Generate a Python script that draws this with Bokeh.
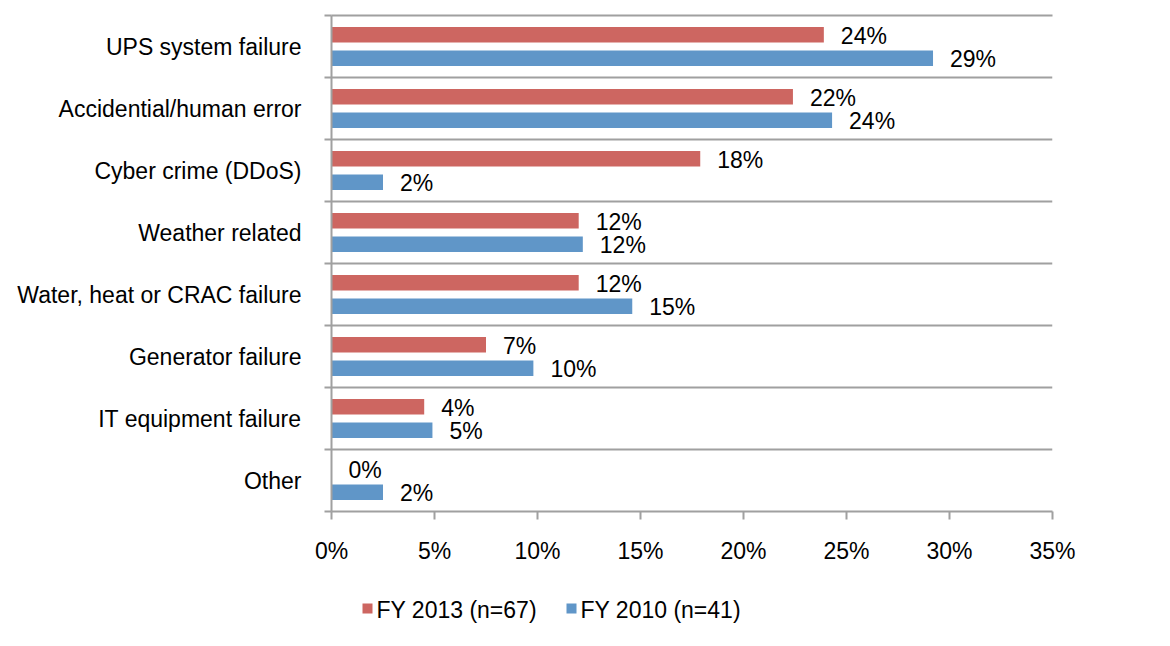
from bokeh.plotting import figure
from bokeh.models import ColumnDataSource, FixedTicker, PrintfTickFormatter, Range1d, LinearAxis
from bokeh.layouts import column
from bokeh.embed import file_html
from bokeh.resources import INLINE
from bokeh.core.properties import value

categories = ["UPS system failure", "Accidential/human error", "Cyber crime (DDoS)",
              "Weather related", "Water, heat or CRAC failure", "Generator failure",
              "IT equipment failure", "Other"]
fy2013 = [23.9, 22.4, 17.9, 12.0, 12.0, 7.5, 4.5, 0.0]
fy2010 = [29.2, 24.3, 2.5, 12.2, 14.6, 9.8, 4.9, 2.5]
labels2013 = ["24%", "22%", "18%", "12%", "12%", "7%", "4%", "0%"]
labels2010 = ["29%", "24%", "2%", "12%", "15%", "10%", "5%", "2%"]
series_names = ["FY 2013 (n=67)", "FY 2010 (n=41)"]
x_ticks = [0, 5, 10, 15, 20, 25, 30, 35]

RED = "#CD6661"
BLUE = "#6096C8"
GREY = "#A0A0A0"
FONT = "Liberation Sans"
FS = "23px"

W_LEFT, W_FRAME, W_RIGHT = 331, 721, 100

n = len(categories)
ypos = [n - 1 - i for i in range(n)]
off = 0.188
h = 0.25

src13 = ColumnDataSource(dict(y=[v + off for v in ypos], x=fy2013, lab=labels2013))
src10 = ColumnDataSource(dict(y=[v - off for v in ypos], x=fy2010, lab=labels2010))

p = figure(frame_width=W_FRAME, frame_height=496, output_backend="svg", toolbar_location=None,
           x_range=Range1d(0, 35), y_range=Range1d(-0.5, n - 0.5),
           min_border_left=W_LEFT, min_border_right=W_RIGHT, min_border_top=15, min_border_bottom=60)
p.outline_line_color = None
p.background_fill_color = "white"
p.border_fill_color = "white"

r13 = p.hbar(y="y", right="x", left=0, height=h, source=src13, fill_color=RED, line_color=None)
r10 = p.hbar(y="y", right="x", left=0, height=h, source=src10, fill_color=BLUE, line_color=None)

for s in (src13, src10):
    p.text(x="x", y="y", text="lab", source=s, x_offset=17, y_offset=1,
           text_font=value(FONT), text_font_size=FS, text_baseline="middle",
           text_align="left", text_color="black")

# x axis
xa = p.xaxis[0]
xa.ticker = FixedTicker(ticks=x_ticks)
xa.formatter = PrintfTickFormatter(format="%d%%")
xa.axis_line_color = GREY
xa.axis_line_width = 2
xa.major_tick_line_color = GREY
xa.major_tick_line_width = 2
xa.major_tick_out = 8
xa.major_tick_in = 0
xa.minor_tick_line_color = None
xa.major_label_standoff = 18
xa.major_label_text_font = FONT
xa.major_label_text_font_size = FS
xa.major_label_text_color = "black"

# top border line (upper category boundary)
top = LinearAxis(ticker=FixedTicker(ticks=[]), axis_line_color=GREY, axis_line_width=2,
                 major_tick_line_color=None, minor_tick_line_color=None,
                 major_label_text_font_size="0px")
p.add_layout(top, "above")

# y axis
boundaries = [k + 0.5 for k in range(-1, n)]
ya = p.yaxis[0]
ya.ticker = FixedTicker(ticks=ypos, minor_ticks=boundaries)
ya.major_label_overrides = {ypos[i]: categories[i] for i in range(n)}
ya.axis_line_color = GREY
ya.axis_line_width = 2
ya.major_tick_line_color = None
ya.major_tick_out = 0
ya.major_tick_in = 0
ya.minor_tick_line_color = GREY
ya.minor_tick_line_width = 2
ya.minor_tick_out = 7
ya.minor_tick_in = 0
ya.major_label_standoff = 23
ya.major_label_text_font = FONT
ya.major_label_text_font_size = FS
ya.major_label_text_color = "black"

p.xgrid.grid_line_color = None
p.ygrid.ticker = FixedTicker(ticks=boundaries)
p.ygrid.grid_line_color = GREY
p.ygrid.grid_line_width = 2

# legend strip (pixel-scaled figure below the chart, frame aligned with the chart)
LEG_H = 60
leg_x = [367, 571]
leg_y = 23
lf = figure(frame_width=W_FRAME, frame_height=LEG_H, output_backend="svg", toolbar_location=None,
            x_range=Range1d(W_LEFT, W_LEFT + W_FRAME), y_range=Range1d(0, LEG_H),
            x_axis_location=None, y_axis_location=None,
            min_border_left=W_LEFT, min_border_right=W_RIGHT, min_border_top=0, min_border_bottom=0)
lf.outline_line_color = None
lf.grid.visible = False
lsrc = ColumnDataSource(dict(x=leg_x, y=[leg_y, leg_y], c=[RED, BLUE], lab=series_names))
lf.scatter(x="x", y="y", source=lsrc, marker="square", size=10, fill_color="c", line_color=None)
lf.text(x="x", y="y", text="lab", source=lsrc, x_offset=9, y_offset=1,
        text_font=value(FONT), text_font_size=FS, text_baseline="middle",
        text_align="left", text_color="black")

layout = column(p, lf, spacing=0)
open("out.html", "w").write(file_html(layout, INLINE))
